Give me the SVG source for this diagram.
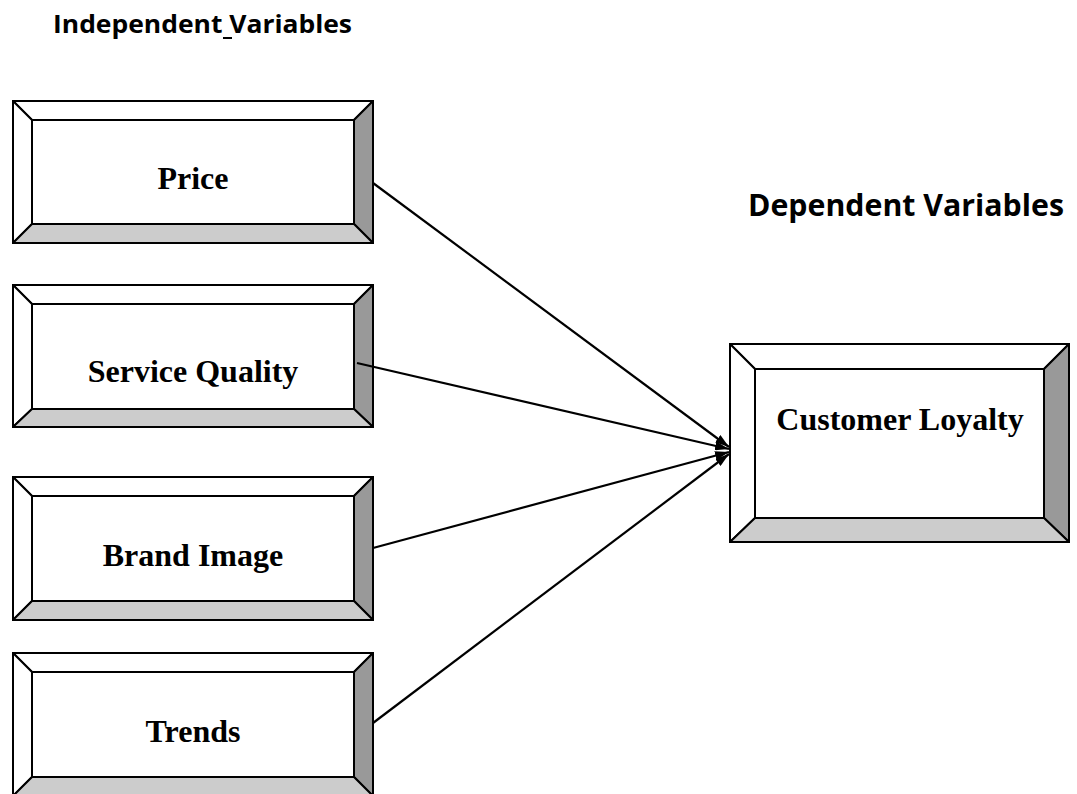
<svg xmlns="http://www.w3.org/2000/svg" width="1077" height="794" viewBox="0 0 1077 794">
  <style>
    .face { stroke: #000; stroke-width: 2; fill: none; }
    .light { fill: #fff; stroke: #000; stroke-width: 2; stroke-linejoin: round; }
    .right { fill: #999999; stroke: #000; stroke-width: 2; stroke-linejoin: round; }
    .bottom { fill: #cccccc; stroke: #000; stroke-width: 2; stroke-linejoin: round; }
    .label { font-family: "Liberation Serif", "Times New Roman", serif; font-weight: bold; font-size: 32px; fill: #000; text-anchor: middle; }
    .heading { font-family: "Open Sans", "Liberation Sans", sans-serif; font-weight: bold; fill: #000; }
    .conn { stroke: #000; stroke-width: 2.2; fill: none; }
  </style>
  <defs>
    <marker id="arrow" viewBox="0 0 14 9" refX="14" refY="4.5" markerWidth="14" markerHeight="9" markerUnits="userSpaceOnUse" orient="auto">
      <path d="M0,0 L14,4.5 L0,9 Z" fill="#000"/>
    </marker>
  </defs>

  <rect width="1077" height="794" fill="#fff"/>

  <!-- headings -->
  <text class="heading" x="53" y="33" font-size="25" textLength="299" lengthAdjust="spacingAndGlyphs">Independent Variables</text>
  <line x1="223" y1="38" x2="232" y2="38" stroke="#000" stroke-width="2"/>
  <text class="heading" x="748" y="216" font-size="30" textLength="316" lengthAdjust="spacingAndGlyphs">Dependent Variables</text>

  <!-- bevelled boxes: outer frame, 19px bevel, white face -->
  <g id="node-price">
    <polygon class="light" points="13,101 373,101 354,120 32,120"/>
    <polygon class="light" points="13,101 32,120 32,224 13,243"/>
    <polygon class="right" points="373,101 373,243 354,224 354,120"/>
    <polygon class="bottom" points="13,243 32,224 354,224 373,243"/>
    <rect class="face" x="13" y="101" width="360" height="142"/>
    <text class="label" x="193" y="189">Price</text>
  </g>

  <g id="node-service-quality">
    <polygon class="light" points="13,285 373,285 354,304 32,304"/>
    <polygon class="light" points="13,285 32,304 32,409 13,427"/>
    <polygon class="right" points="373,285 373,427 354,409 354,304"/>
    <polygon class="bottom" points="13,427 32,409 354,409 373,427"/>
    <rect class="face" x="13" y="285" width="360" height="142"/>
    <text class="label" x="193" y="382">Service Quality</text>
  </g>

  <g id="node-brand-image">
    <polygon class="light" points="13,477 373,477 354,496 32,496"/>
    <polygon class="light" points="13,477 32,496 32,601 13,620"/>
    <polygon class="right" points="373,477 373,620 354,601 354,496"/>
    <polygon class="bottom" points="13,620 32,601 354,601 373,620"/>
    <rect class="face" x="13" y="477" width="360" height="143"/>
    <text class="label" x="193" y="566">Brand Image</text>
  </g>

  <g id="node-trends">
    <polygon class="light" points="13,653 373,653 354,672 32,672"/>
    <polygon class="light" points="13,653 32,672 32,777 13,796"/>
    <polygon class="right" points="373,653 373,796 354,777 354,672"/>
    <polygon class="bottom" points="13,796 32,777 354,777 373,796"/>
    <rect class="face" x="13" y="653" width="360" height="143"/>
    <text class="label" x="193" y="742">Trends</text>
  </g>

  <g id="node-customer-loyalty">
    <polygon class="light" points="730,344 1069,344 1044,369 755,369"/>
    <polygon class="light" points="730,344 755,369 755,518 730,542"/>
    <polygon class="right" points="1069,344 1069,542 1044,518 1044,369"/>
    <polygon class="bottom" points="730,542 755,518 1044,518 1069,542"/>
    <rect class="face" x="730" y="344" width="339" height="198"/>
    <text class="label" x="900" y="430">Customer Loyalty</text>
  </g>

  <!-- connectors, all converging on the left edge of Customer Loyalty -->
  <g id="connectors">
    <line class="conn" x1="373" y1="183" x2="729" y2="447" marker-end="url(#arrow)"/>
    <line class="conn" x1="357" y1="363" x2="729" y2="449" marker-end="url(#arrow)"/>
    <line class="conn" x1="373" y1="548" x2="729" y2="452" marker-end="url(#arrow)"/>
    <line class="conn" x1="373" y1="723" x2="729" y2="454" marker-end="url(#arrow)"/>
  </g>
</svg>
